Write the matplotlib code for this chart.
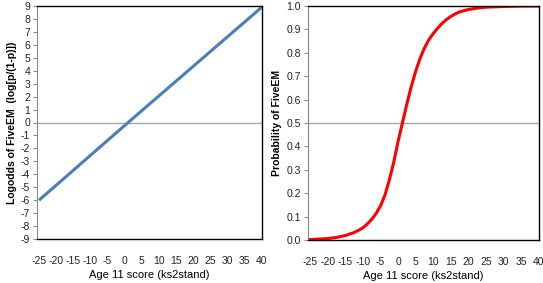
import matplotlib
matplotlib.use("Agg")
import matplotlib.pyplot as plt

plt.rcParams["axes.unicode_minus"] = False

# data
score_line = [-25, 1, 40]
logodds = [-6.0, 0.0, 8.9]

score = [-25, -22.5, -20, -17.5, -15, -12.5, -11.25, -10, -8.75, -7.5, -6.25,
         -5, -3.75, -2.5, -1.25, 0, 1.25, 2.5, 3.75, 5, 6.25, 7.5, 8.75, 10,
         11.25, 12.5, 13.75, 15, 16.25, 17.5, 20, 22.5, 25, 30, 35, 40]
prob = [0.002, 0.004, 0.006, 0.011, 0.019, 0.032, 0.041, 0.052, 0.068, 0.088,
        0.113, 0.145, 0.19, 0.255, 0.33, 0.42, 0.50, 0.58, 0.655, 0.72, 0.775,
        0.82, 0.855, 0.882, 0.905, 0.925, 0.942, 0.955, 0.966, 0.975, 0.985,
        0.991, 0.995, 0.998, 0.9995, 0.9999]

xticks = list(range(-25, 41, 5))
font = "Liberation Sans"

fig = plt.figure(figsize=(5.43, 2.83), dpi=100)
W, H = 543, 283
ax1 = fig.add_axes([37 / W, 1 - 239 / H, (262 - 37) / W, (239 - 6) / H])
ax2 = fig.add_axes([308 / W, 1 - 240 / H, (539 - 308) / W, (240 - 6) / H])


def style(ax):
    for s in ["top", "right", "bottom"]:
        ax.spines[s].set_color("#000000")
        ax.spines[s].set_linewidth(1.0)
    ax.spines["left"].set_color("#868686")
    ax.spines["left"].set_linewidth(0.8)
    ax.tick_params(axis="y", length=3, width=0.7, color="#868686", pad=2,
                   labelsize=7.5, labelcolor="#222222")
    ax.tick_params(axis="x", length=0, pad=12, labelsize=7.5, labelcolor="#222222")
    ax.set_xticks(xticks)
    ax.set_xlim(-25.6, 40.1)
    for t in ax.get_xticklabels() + ax.get_yticklabels():
        t.set_fontfamily(font)
    ax.set_xlabel("Age 11 score (ks2stand)", fontsize=8, family=font, labelpad=3)


ax1.axhline(0, color="#a6a6a6", lw=1.0, zorder=1)
ax1.plot(score_line, logodds, color="#4a7ebb", lw=2.2, solid_capstyle="butt")
ax1.set_ylim(-9, 9)
ax1.set_yticks(range(-9, 10))
style(ax1)
ax1.set_ylabel("Logodds of FiveEM  (log[p/(1-p)])", fontsize=7.5,
               fontweight="bold", family=font, labelpad=3)

ax2.axhline(0.5, color="#a6a6a6", lw=1.0, zorder=1)
ax2.plot(score, prob, color="#ff0000", lw=2.2, solid_joinstyle="round")
ax2.set_ylim(0, 1)
ax2.set_yticks([i / 10 for i in range(11)])
ax2.set_yticklabels([f"{i / 10:.1f}" for i in range(11)])
style(ax2)
ax2.set_ylabel("Probability of FiveEM", fontsize=7.5, fontweight="bold",
               family=font, labelpad=3)

fig.savefig("out.png", dpi=100)
